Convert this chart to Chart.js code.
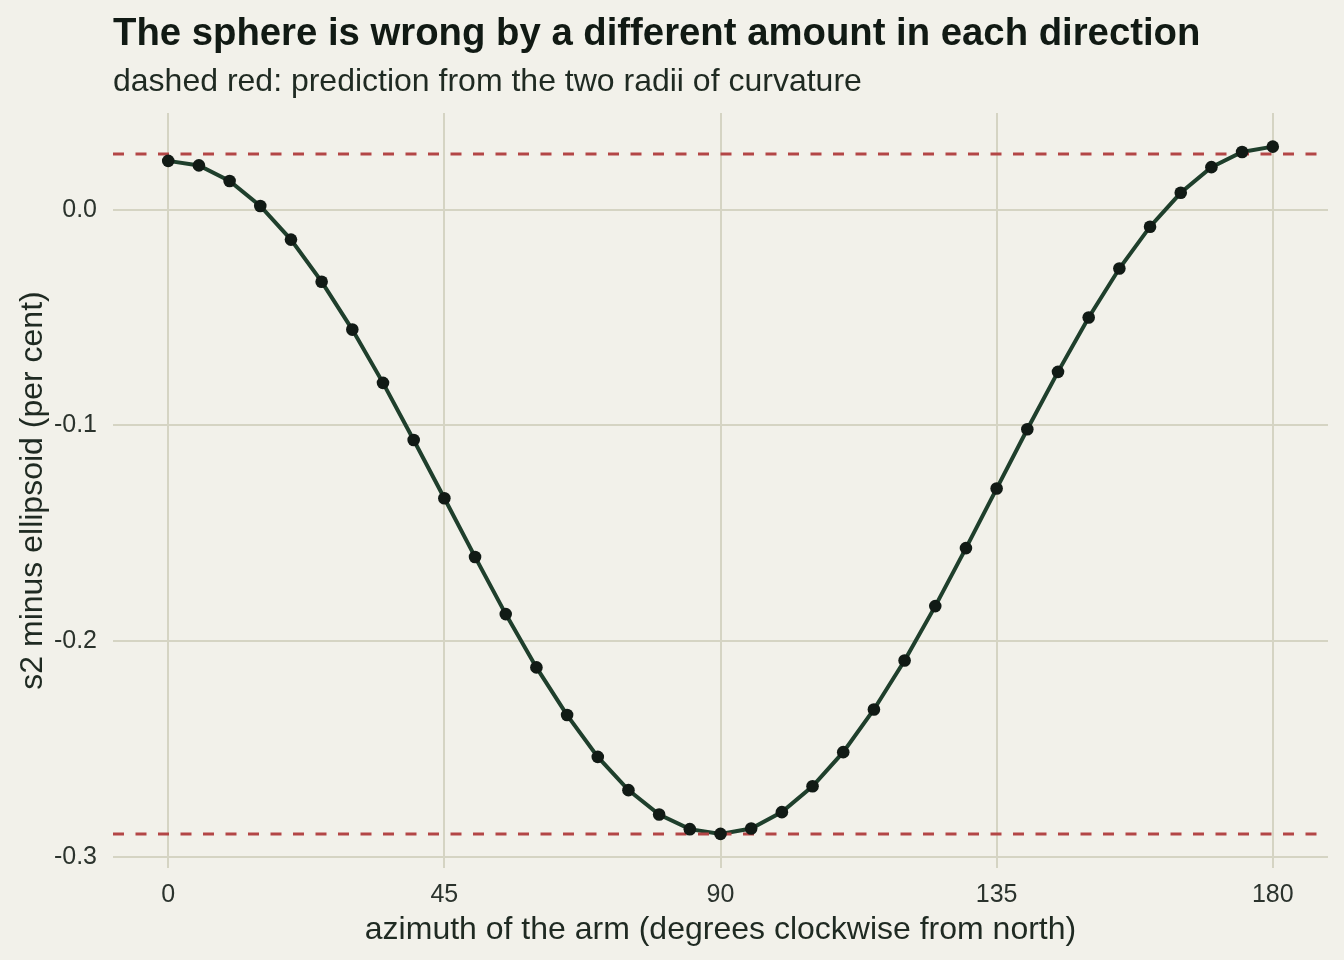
<!DOCTYPE html>
<html>
<head>
<meta charset="utf-8">
<title>Sphere minus ellipsoid</title>
<script src="https://cdn.jsdelivr.net/npm/chart.js@4.4.1/dist/chart.umd.min.js"></script>
<style>
    html, body {
        margin: 0;
        padding: 0;
        background: #f2f1ea;
    }
    #chart-wrap {
        width: 1344px;
        height: 960px;
    }
</style>
</head>
<body>
<div id="chart-wrap">
    <canvas id="sphere-chart" width="1344" height="960"></canvas>
</div>
<script>
    // Azimuth of the arm, degrees clockwise from north
    const azimuth = [0, 5, 10, 15, 20, 25, 30, 35, 40, 45, 50, 55, 60, 65, 70, 75, 80, 85, 90,
        95, 100, 105, 110, 115, 120, 125, 130, 135, 140, 145, 150, 155, 160, 165, 170, 175, 180];

    // s2 minus ellipsoid, per cent
    const sphereMinusEllipsoid = [0.0226, 0.0205, 0.0133, 0.0017, -0.0139, -0.0334, -0.0556, -0.0803,
        -0.1068, -0.1338, -0.1610, -0.1875, -0.2122, -0.2343, -0.2537, -0.2691, -0.2804, -0.2872,
        -0.2894, -0.2869, -0.2793, -0.2673, -0.2515, -0.2317, -0.2090, -0.1838, -0.1569, -0.1293,
        -0.1018, -0.0752, -0.0500, -0.0273, -0.0079, 0.0078, 0.0197, 0.0267, 0.0292];

    // Prediction from the two radii of curvature (dashed red)
    const predictionLevels = [0.0258, -0.2894];

    const xTicks = [0, 45, 90, 135, 180];
    const yTicks = [0, -0.1, -0.2, -0.3];
    const yTickLabels = ['0.0', '-0.1', '-0.2', '-0.3'];

    const titleText = 'The sphere is wrong by a different amount in each direction';
    const subtitleText = 'dashed red: prediction from the two radii of curvature';

    const FONT = '"Liberation Sans", Arial, Helvetica, sans-serif';
    const X_MIN = -9;
    const X_MAX = 189;

    /**
     * Background, plus title and subtitle left aligned with the panel
     */
    const headingPlugin = {
        id: 'heading',
        beforeDraw(chart) {
            const ctx = chart.ctx;
            ctx.save();
            ctx.fillStyle = '#f2f1ea';
            ctx.fillRect(0, 0, chart.width, chart.height);
            ctx.restore();
        },
        afterDraw(chart) {
            const ctx = chart.ctx;
            const left = chart.chartArea.left;
            ctx.save();
            ctx.textAlign = 'left';
            ctx.textBaseline = 'alphabetic';
            ctx.fillStyle = '#111a14';
            ctx.font = 'bold 38.3px ' + FONT;
            ctx.fillText(titleText, left, 45);
            ctx.fillStyle = '#1f2a22';
            ctx.font = '32px ' + FONT;
            ctx.fillText(subtitleText, left, 91);
            ctx.restore();
        }
    };

    const curvePoints = azimuth.map((az, i) => ({ x: az, y: sphereMinusEllipsoid[i] }));

    const predictionDatasets = predictionLevels.map(level => ({
        data: [{ x: X_MIN, y: level }, { x: X_MAX, y: level }],
        showLine: true,
        borderColor: '#b34646',
        borderWidth: 3,
        borderDash: [11, 11.5],
        pointRadius: 0,
        order: 1
    }));

    const ctx = document.getElementById('sphere-chart').getContext('2d');

    new Chart(ctx, {
        type: 'scatter',
        data: {
            datasets: [
                {
                    data: curvePoints,
                    showLine: true,
                    borderColor: '#1f3f2c',
                    borderWidth: 4,
                    pointRadius: 0,
                    tension: 0,
                    order: 2
                },
                ...predictionDatasets,
                {
                    data: curvePoints,
                    showLine: false,
                    pointRadius: 6.3,
                    pointBackgroundColor: '#111a15',
                    pointBorderWidth: 0,
                    order: 0
                }
            ]
        },
        options: {
            responsive: false,
            animation: false,
            layout: {
                padding: { top: 113, right: 16, bottom: 0, left: 0 }
            },
            plugins: {
                legend: { display: false },
                tooltip: { enabled: false }
            },
            scales: {
                x: {
                    type: 'linear',
                    min: X_MIN,
                    max: X_MAX,
                    afterBuildTicks: scale => {
                        scale.ticks = xTicks.map(v => ({ value: v }));
                    },
                    afterFit: scale => {
                        scale.height = 92;
                    },
                    grid: {
                        color: '#d5d4c3',
                        lineWidth: 2,
                        drawTicks: false
                    },
                    border: { display: false },
                    ticks: {
                        padding: 12,
                        color: '#2b332d',
                        font: { family: FONT, size: 25 },
                        callback: v => String(v)
                    },
                    title: {
                        display: true,
                        text: 'azimuth of the arm (degrees clockwise from north)',
                        color: '#1f2a22',
                        font: { family: FONT, size: 32 },
                        padding: { top: 0, bottom: 11 }
                    }
                },
                y: {
                    type: 'linear',
                    min: -0.3052,
                    max: 0.0448,
                    afterBuildTicks: scale => {
                        scale.ticks = yTicks.map(v => ({ value: v }));
                    },
                    afterFit: scale => {
                        scale.width = 113;
                    },
                    grid: {
                        color: '#d5d4c3',
                        lineWidth: 2,
                        drawTicks: false
                    },
                    border: { display: false },
                    ticks: {
                        padding: 16,
                        color: '#2b332d',
                        font: { family: FONT, size: 25 },
                        callback: v => yTickLabels[yTicks.indexOf(v)]
                    },
                    title: {
                        display: true,
                        text: 's2 minus ellipsoid (per cent)',
                        color: '#1f2a22',
                        font: { family: FONT, size: 32 },
                        padding: { top: 14, bottom: 0 }
                    }
                }
            }
        },
        plugins: [headingPlugin]
    });
</script>
</body>
</html>
